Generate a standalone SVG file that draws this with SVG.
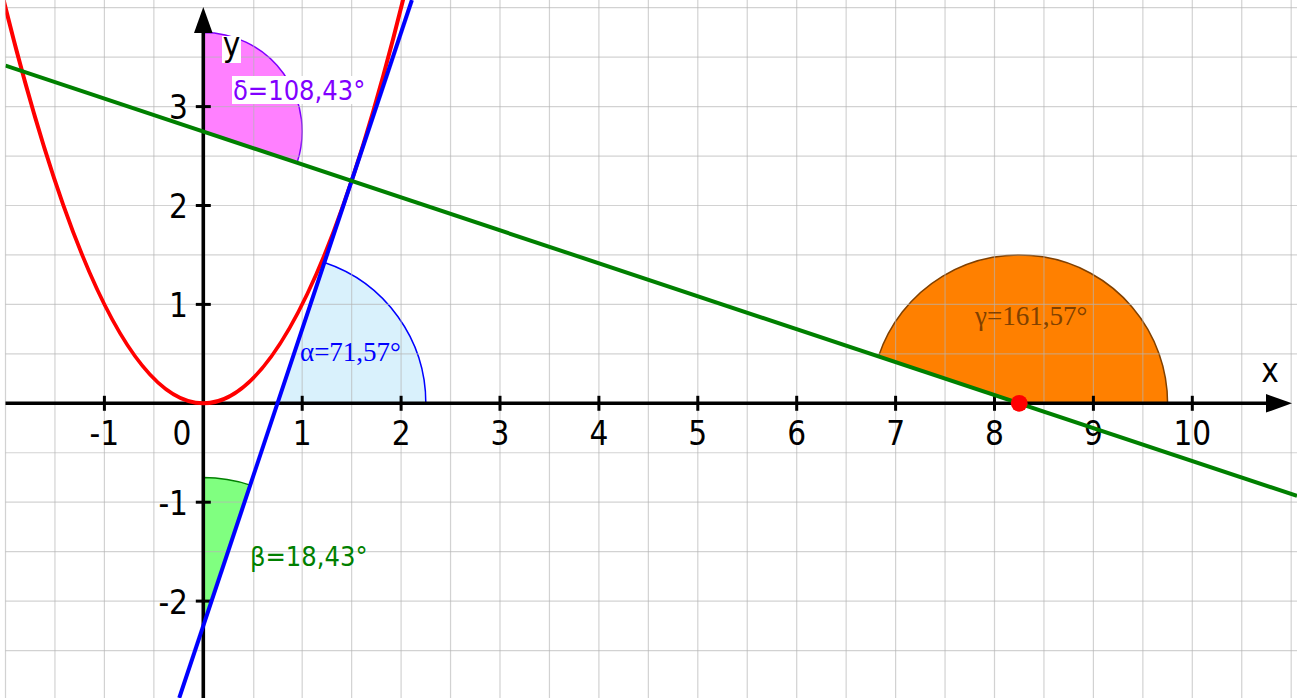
<svg xmlns="http://www.w3.org/2000/svg" width="1297" height="698" viewBox="0 0 1297 698">
<style>
.grid line{stroke:#b4b4b4;stroke-opacity:0.6;stroke-width:1.2}
.axis{stroke:#000;stroke-width:3.6;fill:none}
.tick{stroke:#000;stroke-width:3}
.num{font-family:"DejaVu Sans Condensed","DejaVu Sans",sans-serif;font-size:33px;fill:#000}
.sans{font-family:"DejaVu Sans Condensed","DejaVu Sans",sans-serif;font-size:27px}
.serif{font-family:"Liberation Serif",serif;font-size:27px}
.curve{fill:none;stroke-width:4}
</style>
<defs>
<clipPath id="plot"><rect x="5.5" y="0" width="1292" height="698"/></clipPath>
</defs>
<rect width="1297" height="698" fill="#fff"/>
<g id="sectors">
<path id="alpha-sector" d="M277.48,403.3 L425.83,403.3 A148.35,148.35 0 0 0 324.39,262.56 Z" fill="#d9f1fc" stroke="#0000ff" stroke-width="1.5"/>
<path id="beta-sector" d="M203.3,625.83 L203.3,477.48 A148.35,148.35 0 0 1 250.21,485.09 Z" fill="#80ff80" stroke="#008000" stroke-width="1.5"/>
<path id="delta-sector" d="M203.3,131.33 L203.3,32.43 A98.9,98.9 0 0 1 297.12,162.6 Z" fill="#ff80ff" stroke="#8000ff" stroke-width="1.5"/>
<path id="gamma-sector" d="M1019.23,403.3 L1167.58,403.3 A148.35,148.35 0 0 0 878.49,356.39 Z" fill="#ff8000" stroke="#804000" stroke-width="1.5"/>
</g>
<g class="grid" id="grid">
<line x1="5.5" y1="0" x2="5.5" y2="698"/>
<line x1="54.95" y1="0" x2="54.95" y2="698"/>
<line x1="104.4" y1="0" x2="104.4" y2="698"/>
<line x1="153.85" y1="0" x2="153.85" y2="698"/>
<line x1="253.75" y1="0" x2="253.75" y2="698"/>
<line x1="302.2" y1="0" x2="302.2" y2="698"/>
<line x1="351.65" y1="0" x2="351.65" y2="698"/>
<line x1="401.1" y1="0" x2="401.1" y2="698"/>
<line x1="450.55" y1="0" x2="450.55" y2="698"/>
<line x1="500" y1="0" x2="500" y2="698"/>
<line x1="549.45" y1="0" x2="549.45" y2="698"/>
<line x1="598.9" y1="0" x2="598.9" y2="698"/>
<line x1="648.35" y1="0" x2="648.35" y2="698"/>
<line x1="697.8" y1="0" x2="697.8" y2="698"/>
<line x1="747.25" y1="0" x2="747.25" y2="698"/>
<line x1="796.7" y1="0" x2="796.7" y2="698"/>
<line x1="846.15" y1="0" x2="846.15" y2="698"/>
<line x1="895.6" y1="0" x2="895.6" y2="698"/>
<line x1="945.05" y1="0" x2="945.05" y2="698"/>
<line x1="994.5" y1="0" x2="994.5" y2="698"/>
<line x1="1043.95" y1="0" x2="1043.95" y2="698"/>
<line x1="1093.4" y1="0" x2="1093.4" y2="698"/>
<line x1="1142.85" y1="0" x2="1142.85" y2="698"/>
<line x1="1192.3" y1="0" x2="1192.3" y2="698"/>
<line x1="1241.75" y1="0" x2="1241.75" y2="698"/>
<line x1="1291.2" y1="0" x2="1291.2" y2="698"/>
<line x1="5.5" y1="7.7" x2="1297" y2="7.7"/>
<line x1="5.5" y1="57.15" x2="1297" y2="57.15"/>
<line x1="5.5" y1="106.6" x2="1297" y2="106.6"/>
<line x1="5.5" y1="156.05" x2="1297" y2="156.05"/>
<line x1="5.5" y1="205.5" x2="1297" y2="205.5"/>
<line x1="5.5" y1="254.95" x2="1297" y2="254.95"/>
<line x1="5.5" y1="304.4" x2="1297" y2="304.4"/>
<line x1="5.5" y1="353.85" x2="1297" y2="353.85"/>
<line x1="5.5" y1="452.75" x2="1297" y2="452.75"/>
<line x1="5.5" y1="502.2" x2="1297" y2="502.2"/>
<line x1="5.5" y1="551.65" x2="1297" y2="551.65"/>
<line x1="5.5" y1="601.1" x2="1297" y2="601.1"/>
<line x1="5.5" y1="650.55" x2="1297" y2="650.55"/>
</g>
<g id="axes">
<line class="axis" x1="5.5" y1="403.3" x2="1270" y2="403.3"/>
<polygon points="1266,394 1292,403.3 1266,412.6" fill="#000"/>
<line class="axis" x1="203.3" y1="698" x2="203.3" y2="30"/>
<polygon points="194,33 203.3,7 212.6,33" fill="#000"/>
<g id="ticks">
<line class="tick" x1="104.4" y1="395.8" x2="104.4" y2="410.8"/>
<line class="tick" x1="302.2" y1="395.8" x2="302.2" y2="410.8"/>
<line class="tick" x1="401.1" y1="395.8" x2="401.1" y2="410.8"/>
<line class="tick" x1="500" y1="395.8" x2="500" y2="410.8"/>
<line class="tick" x1="598.9" y1="395.8" x2="598.9" y2="410.8"/>
<line class="tick" x1="697.8" y1="395.8" x2="697.8" y2="410.8"/>
<line class="tick" x1="796.7" y1="395.8" x2="796.7" y2="410.8"/>
<line class="tick" x1="895.6" y1="395.8" x2="895.6" y2="410.8"/>
<line class="tick" x1="994.5" y1="395.8" x2="994.5" y2="410.8"/>
<line class="tick" x1="1093.4" y1="395.8" x2="1093.4" y2="410.8"/>
<line class="tick" x1="1192.3" y1="395.8" x2="1192.3" y2="410.8"/>
<line class="tick" x1="195.8" y1="106.6" x2="210.8" y2="106.6"/>
<line class="tick" x1="195.8" y1="205.5" x2="210.8" y2="205.5"/>
<line class="tick" x1="195.8" y1="304.4" x2="210.8" y2="304.4"/>
<line class="tick" x1="195.8" y1="502.2" x2="210.8" y2="502.2"/>
<line class="tick" x1="195.8" y1="601.1" x2="210.8" y2="601.1"/>
</g>
<g id="tick-labels" class="num">
<text x="104.4" y="445" text-anchor="middle">-1</text>
<text x="182" y="445" text-anchor="middle">0</text>
<text x="302.2" y="445" text-anchor="middle">1</text>
<text x="401.1" y="445" text-anchor="middle">2</text>
<text x="500" y="445" text-anchor="middle">3</text>
<text x="598.9" y="445" text-anchor="middle">4</text>
<text x="697.8" y="445" text-anchor="middle">5</text>
<text x="796.7" y="445" text-anchor="middle">6</text>
<text x="895.6" y="445" text-anchor="middle">7</text>
<text x="994.5" y="445" text-anchor="middle">8</text>
<text x="1093.4" y="445" text-anchor="middle">9</text>
<text x="1192.3" y="445" text-anchor="middle">10</text>
<text x="188" y="119" text-anchor="end">3</text>
<text x="188" y="218" text-anchor="end">2</text>
<text x="188" y="317" text-anchor="end">1</text>
<text x="188" y="515" text-anchor="end">-1</text>
<text x="188" y="614" text-anchor="end">-2</text>
</g>
<text class="num" x="1270" y="382" text-anchor="middle" font-size="32">x</text>
<rect x="222" y="36" width="19" height="27" fill="#fff"/>
<text class="num" x="231.5" y="56" text-anchor="middle" font-size="32">y</text>
</g>
<g id="connectors" clip-path="url(#plot)">
<path id="parabola" class="curve" stroke="#ff0000" d="M-4.39,-32.85 Q203.3,839.45 410.99,-32.85"/>
<line id="tangent" class="curve" stroke="#0000ff" x1="179.24" y1="698" x2="411.9" y2="0"/>
<line id="normal" class="curve" stroke="#008000" x1="5.5" y1="65.6" x2="1297" y2="495.9"/>
</g>
<g id="labels">
<text id="alpha-label" class="serif" x="300" y="361" fill="#0000ff">α=71,57°</text>
<text id="gamma-label" class="serif" x="975" y="325" fill="#804000">γ=161,57°</text>
<rect x="232" y="76" width="134" height="28" fill="#fff"/>
<text id="delta-label" class="sans" x="233" y="100" fill="#8000ff">δ=108,43°</text>
<text id="beta-label" class="sans" x="250" y="566" fill="#008000">β=18,43°</text>
</g>
<g id="point">
<circle cx="1019.23" cy="403.3" r="8.4" fill="#ff0000"/>
</g>
</svg>
